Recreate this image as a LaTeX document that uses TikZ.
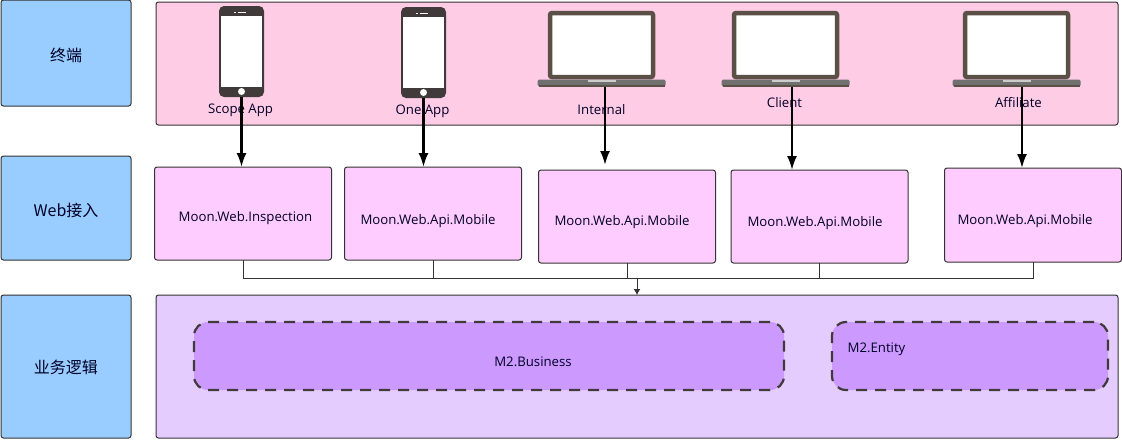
\documentclass[tikz,border=0pt]{standalone}
\usepackage{fontspec}
\setmainfont{Open Sans}
\newfontfamily\cjk{Noto Sans CJK SC}
\usetikzlibrary{positioning,arrows.meta,calc}

\definecolor{layerblue}{HTML}{99CCFF}
\definecolor{termpink}{HTML}{FFCCE6}
\definecolor{webpink}{HTML}{FFCCFF}
\definecolor{logiclilac}{HTML}{E5CCFF}
\definecolor{modpurple}{HTML}{CC99FF}
\definecolor{edgegrey}{HTML}{333333}
\definecolor{phonegrey}{HTML}{403A3A}
\definecolor{lapbrown}{HTML}{5A5045}
\definecolor{lapgrey}{HTML}{707070}

\tikzset{
	box/.style={rectangle,draw=edgegrey,line width=1pt,rounded corners=2.5pt,inner sep=0pt,outer sep=0pt},
	layer/.style={box,fill=layerblue,minimum width=130pt,font=\cjk\fontsize{16}{18}\selectfont},
	band/.style={box,minimum width=962pt},
	webbox/.style={box,fill=webpink,minimum width=177pt,minimum height=93pt},
	module/.style={box,fill=modpurple,draw=phonegrey,line width=2.2pt,dash pattern=on 11pt off 8pt,rounded corners=14pt,minimum height=68pt},
	txt/.style={inner sep=0pt,font=\fontsize{13.2}{15}\selectfont,text=black!85!blue},
	feed/.style={draw=black,line width=2.2pt,-{Latex[length=14pt,width=10pt]}},
	bus/.style={draw=edgegrey,line width=1pt},
	phonebody/.style={rectangle,fill=phonegrey,rounded corners=5pt,minimum width=45pt,minimum height=91pt,inner sep=0pt,outer sep=0pt},
	phonescreen/.style={rectangle,fill=white,minimum width=41pt,minimum height=71pt,inner sep=0pt},
	lapscreen/.style={rectangle,fill=white,draw=lapbrown,line width=4.5pt,rounded corners=2pt,minimum width=103pt,minimum height=64pt,inner sep=0pt},
	lapbase/.style={rectangle,fill=lapgrey,rounded corners=1.5pt,minimum width=128pt,minimum height=7pt,inner sep=0pt,outer sep=0pt},
}

% phone and laptop icons: name, x, y of centre
\newcommand{\phoneicon}[3]{
	\node[phonebody] (#1) at (#2,#3) {};
	\node[phonescreen] (#1s) at (#2,#3) {};
	\node[circle,fill=white,minimum size=7pt,inner sep=0pt] (#1h) at (#2,#3+40) {};
	\fill[white] (#2-4,#3-40) rectangle (#2+4,#3-39);
	\fill[white] (#2-8,#3-40) rectangle (#2-6,#3-39);
}
\newcommand{\laptopicon}[3]{
	\node[lapscreen] (#1s) at (#2,#3) {};
	\node[lapbase] (#1) at (#2,#3+38) {};
	\fill[black!20] (#2-14,#3+35) rectangle (#2+14,#3+36.5);
	\fill[lapbrown] (#2-63,#3+40) rectangle (#2+63,#3+41.5);
}

\begin{document}
\begin{tikzpicture}[x=1pt,y=-1pt]
	\useasboundingbox (0,0) rectangle (1122,440);

	% left column
	\node[layer,minimum height=106pt] (term) at (66,53) {};
	\node[layer,minimum height=104pt] (web) at (66,208) {};
	\node[layer,minimum height=143pt] (logic) at (66,366.5) {};
	\node[txt,font=\cjk\fontsize{16}{18}\selectfont] (termt) at (66,55) {终端};
	\node[txt,font=\cjk\fontsize{16}{18}\selectfont] (webt) at (66,210) {Web接入};
	\node[txt,font=\cjk\fontsize{16}{18}\selectfont] (logict) at (66,367.5) {业务逻辑};

	% bands
	\node[band,fill=termpink,minimum height=123pt] (terms) at (637,63.5) {};
	\node[band,fill=logiclilac,minimum height=143pt] (logics) at (637,366.5) {};

	% terminals
	\phoneicon{phone1}{241.5}{51.5}
	\phoneicon{phone2}{423.5}{52.5}
	\laptopicon{lap1}{601.5}{45}
	\laptopicon{lap2}{785.5}{45}
	\laptopicon{lap3}{1016.5}{45}
	\node[txt] (t1) at (240.5,110.5) {Scope App};
	\node[txt] (t2) at (422.5,111.5) {One App};
	\node[txt] (t3) at (601.5,109.5) {Internal};
	\node[txt] (t4) at (784.5,102.5) {Client};
	\node[txt] (t5) at (1018.5,102.5) {Affiliate};

	% web access
	\node[webbox] (web1) at (243,213.5) {};
	\node[webbox] (web2) at (433,213.5) {};
	\node[webbox] (web3) at (627,216.5) {};
	\node[webbox] (web4) at (819.5,216.5) {};
	\node[webbox,minimum height=94pt] (web5) at (1033,215) {};
	\node[txt] (w1) at (245.5,218.5) {Moon.Web.Inspection};
	\node[txt] (w2) at (428,221.5) {Moon.Web.Api.Mobile};
	\node[txt] (w3) at (622,222.5) {Moon.Web.Api.Mobile};
	\node[txt] (w4) at (815,223.5) {Moon.Web.Api.Mobile};
	\node[txt] (w5) at (1025,221.5) {Moon.Web.Api.Mobile};

	% modules
	\node[module,minimum width=590pt] (biz) at (489,356) {};
	\node[module,minimum width=276pt] (ent) at (970,356) {};
	\node[txt] (bizt) at (533,361.5) {M2.Business};
	\node[txt] (entt) at (876.5,349.5) {M2.Entity};

	% feeds
	\draw[feed] (phone1.south) -- (phone1.south |- web1.north);
	\draw[feed] (phone2.south) -- (phone2.south |- web2.north);
	\draw[feed,shorten >=5pt] ([xshift=3.5pt]lap1.south) -- ([xshift=3.5pt]lap1.south |- web3.north);
	\draw[feed] ([xshift=6.5pt]lap2.south) -- ([xshift=6.5pt]lap2.south |- web4.north);
	\draw[feed] ([xshift=5.5pt]lap3.south) -- ([xshift=5.5pt]lap3.south |- web5.north);

	% bus
	\coordinate (busl) at (243,278.5);
	\coordinate (busr) at (1033,278.5);
	\coordinate (busm) at (637,278.5);
	\draw[bus] (web1.south) -- (busl) -- (busr) -- (web5.south);
	\draw[bus] (web2.south) -- (web2.south |- busl);
	\draw[bus] (web3.south) -- (web3.south |- busl);
	\draw[bus] (web4.south) -- (web4.south |- busl);
	\draw[bus,-{Latex[length=6pt,width=7pt]}] (busm) -- (busm |- logics.north);
\end{tikzpicture}
\end{document}
